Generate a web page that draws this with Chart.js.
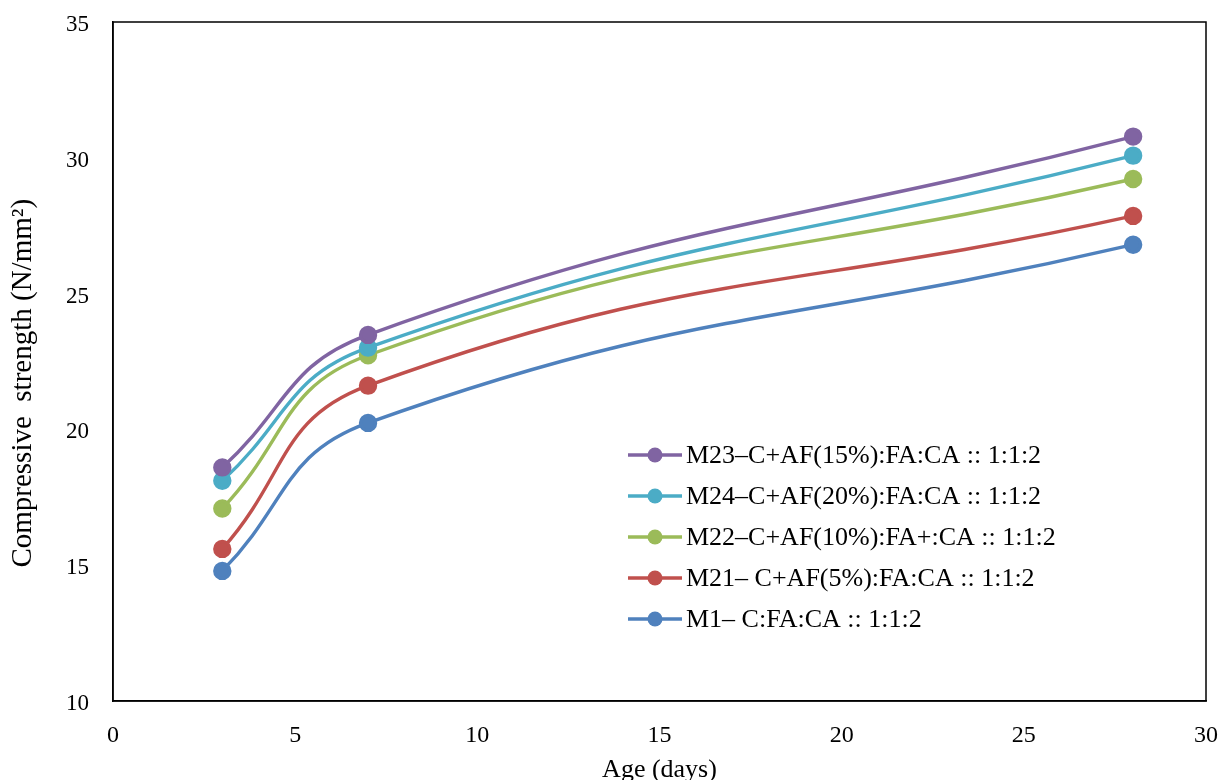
<!DOCTYPE html>
<html>
<head>
<meta charset="utf-8">
<script src="https://cdn.jsdelivr.net/npm/chart.js@4.4.1/dist/chart.umd.min.js"></script>
<style>
  html, body { margin: 0; padding: 0; background: #fff; }
  #wrap { width: 1224px; height: 780px; position: relative; }
</style>
</head>
<body>
<div id="wrap"><canvas id="c" width="1224" height="780"></canvas></div>
<script>
// ---- data ----
const ages = [3, 7, 28];
const seriesLabels = [
  'M23\u2013C+AF(15%):FA:CA :: 1:1:2',
  'M24\u2013C+AF(20%):FA:CA :: 1:1:2',
  'M22\u2013C+AF(10%):FA+:CA :: 1:1:2',
  'M21\u2013 C+AF(5%):FA:CA :: 1:1:2',
  'M1\u2013 C:FA:CA :: 1:1:2'
];
const m23 = [18.60, 23.48, 30.78];
const m24 = [18.11, 23.01, 30.08];
const m22 = [17.09, 22.73, 29.22];
const m21 = [15.60, 21.61, 27.86];
const m1  = [14.79, 20.24, 26.80];
const xTicks = [0, 5, 10, 15, 20, 25, 30];
const yTicks = [10, 15, 20, 25, 30, 35];

const seriesValues = [m23, m24, m22, m21, m1];
const colors = ['#8064A2', '#4BACC6', '#9BBB59', '#C0504D', '#4F81BD'];

const datasets = seriesValues.map((vals, i) => ({
  label: seriesLabels[i],
  data: ages.map((a, j) => ({ x: a, y: vals[j] })),
  borderColor: colors[i],
  backgroundColor: colors[i],
  pointBackgroundColor: colors[i],
  pointBorderColor: colors[i],
  pointRadius: 7.5,
  pointHoverRadius: 7.5,
  borderWidth: 3.4,
  showLine: true,
  tension: 0.45,
  cubicInterpolationMode: 'default'
}));

const FONT = "'Liberation Serif', 'Times New Roman', serif";

const framePlugin = {
  id: 'frame',
  afterDraw(chart) {
    const { ctx, chartArea: a } = chart;
    ctx.save();
    ctx.strokeStyle = '#000';
    ctx.lineWidth = 1.5;
    ctx.strokeRect(a.left, a.top, a.right - a.left, a.bottom - a.top);
    ctx.restore();
  }
};

const legendPlugin = {
  id: 'customLegend',
  afterDraw(chart) {
    const { ctx, chartArea: a } = chart;
    const x0 = a.left + 515;   // line start
    const y0 = a.top + 433;    // first row centre
    const rowH = 41;
    ctx.save();
    ctx.font = '26px ' + FONT;
    ctx.textBaseline = 'middle';
    ctx.textAlign = 'left';
    chart.data.datasets.forEach((ds, i) => {
      const y = y0 + i * rowH;
      ctx.strokeStyle = ds.borderColor;
      ctx.lineWidth = 3.4;
      ctx.beginPath();
      ctx.moveTo(x0, y);
      ctx.lineTo(x0 + 54, y);
      ctx.stroke();
      ctx.fillStyle = ds.borderColor;
      ctx.beginPath();
      ctx.arc(x0 + 27, y, 7.5, 0, Math.PI * 2);
      ctx.fill();
      ctx.fillStyle = '#000';
      ctx.fillText(ds.label, x0 + 58, y + 1);
    });
    ctx.restore();
  }
};

new Chart(document.getElementById('c'), {
  type: 'scatter',
  data: { datasets },
  plugins: [framePlugin, legendPlugin],
  options: {
    responsive: false,
    animation: false,
    devicePixelRatio: 1,
    layout: { padding: { top: 22, right: 18, left: 0, bottom: 0 } },
    plugins: {
      legend: { display: false },
      tooltip: { enabled: false }
    },
    scales: {
      x: {
        type: 'linear',
        min: xTicks[0],
        max: xTicks[xTicks.length - 1],
        afterBuildTicks(scale) { scale.ticks = xTicks.map(v => ({ value: v })); },
        afterFit(scale) {
          scale.height = 79;
          scale.paddingLeft = 0;
          scale.paddingRight = 0;
        },
        grid: { display: false, drawTicks: false },
        border: { display: true, color: '#000', width: 1.5 },
        ticks: { color: '#000', font: { family: FONT, size: 24 }, padding: 20, maxRotation: 0 },
        title: {
          display: true, text: 'Age (days)', color: '#000',
          font: { family: FONT, size: 26 }, padding: { top: 0, bottom: -6 }
        }
      },
      y: {
        type: 'linear',
        min: yTicks[0],
        max: yTicks[yTicks.length - 1],
        afterBuildTicks(scale) { scale.ticks = yTicks.map(v => ({ value: v })); },
        afterFit(scale) {
          scale.width = 113;
          scale.paddingTop = 0;
          scale.paddingBottom = 0;
        },
        grid: { display: false, drawTicks: false },
        border: { display: true, color: '#000', width: 1.5 },
        ticks: { color: '#000', font: { family: FONT, size: 23 }, padding: 24, labelOffset: 3 },
        title: {
          display: true, text: 'Compressive  strength (N/mm\u00B2)      ', color: '#000',
          font: { family: FONT, size: 29 }, padding: { top: 6, bottom: 0 }
        }
      }
    }
  }
});
</script>
</body>
</html>
